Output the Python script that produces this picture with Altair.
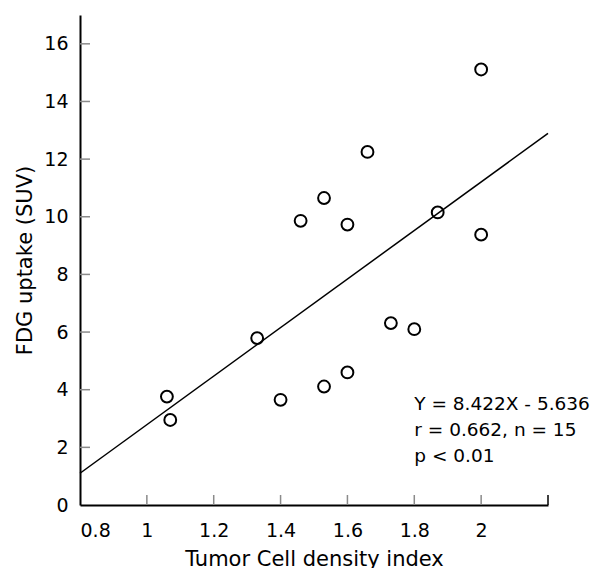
import altair as alt
import pandas as pd

# Data
density = [1.06, 1.07, 1.33, 1.40, 1.46, 1.53, 1.53, 1.60, 1.60, 1.66, 1.73, 1.80, 1.87, 2.00, 2.00]
suv = [3.76, 2.95, 5.79, 3.65, 9.86, 10.65, 4.11, 9.73, 4.60, 12.25, 6.31, 6.10, 10.15, 15.11, 9.38]

slope = 8.422
intercept = -5.636
line_x = [0.8, 2.2]

x_labels = [0.8, 1.0, 1.2, 1.4, 1.6, 1.8, 2.0]
x_ticks = [1.0, 1.2, 1.4, 1.6, 1.8, 2.0]
x_end = [2.2]
y_labels = [0, 2, 4, 6, 8, 10, 12, 14, 16]
y_ticks = [2, 4, 6, 8, 10, 12, 14, 16]

notes = ["Y = 8.422X - 5.636", "r = 0.662, n = 15", "p < 0.01"]
note_x = [1.80, 1.80, 1.80]
note_y = [3.30, 2.40, 1.49]

X_DOMAIN = [0.8, 2.2]
Y_DOMAIN = [0, 17]
W, H = 468, 490
FONT = "DejaVu Sans"

xs = alt.Scale(domain=X_DOMAIN, nice=False, zero=False)
ys = alt.Scale(domain=Y_DOMAIN, nice=False, zero=False)
x_axis = alt.Axis(values=x_labels, format="~g", title="Tumor Cell density index",
                  labelPadding=16, titlePadding=8)
y_axis = alt.Axis(values=y_labels, format="~g", title="FDG uptake (SUV)",
                  labelPadding=12, titlePadding=8)


def X():
    return alt.X("x:Q", scale=xs, axis=x_axis)


def Y():
    return alt.Y("y:Q", scale=ys, axis=y_axis)


pts_df = pd.DataFrame({"x": density, "y": suv})
points = alt.Chart(pts_df).mark_point(
    shape="circle", filled=False, size=140, strokeWidth=2, color="black", opacity=1
).encode(x=X(), y=Y())

line = alt.Chart(pd.DataFrame({"x": line_x})).transform_calculate(
    y=f"{slope} * datum.x + ({intercept})"
).mark_line(color="black", strokeWidth=1.5).encode(x=X(), y=Y())

xtick_rules = alt.Chart(pd.DataFrame({"x": x_ticks})).mark_rule(
    color="#8a8a8a", strokeWidth=1.5
).encode(x=X(), y=alt.value(H), y2=alt.value(H - 10))

xend_rule = alt.Chart(pd.DataFrame({"x": x_end})).mark_rule(
    color="black", strokeWidth=1.5
).encode(x=X(), y=alt.value(H), y2=alt.value(H - 10))

ytick_rules = alt.Chart(pd.DataFrame({"y": y_ticks})).mark_rule(
    color="#8a8a8a", strokeWidth=1.5
).encode(y=Y(), x=alt.value(0), x2=alt.value(10))

text = alt.Chart(pd.DataFrame({"x": note_x, "y": note_y, "t": notes})).mark_text(
    align="left", baseline="alphabetic", font=FONT, fontSize=18.5, color="black"
).encode(x=X(), y=Y(), text="t:N")

chart = alt.layer(points, line, xtick_rules, xend_rule, ytick_rules, text).properties(
    width=W, height=H,
    autosize=alt.AutoSizeParams(type="none"),
    padding={"left": 72, "top": 7, "right": 45, "bottom": 63},
).configure_view(stroke=None).configure_axis(
    grid=False, ticks=False,
    domainColor="black", domainWidth=2,
    labelFont=FONT, labelFontSize=19, labelColor="black",
    titleFont=FONT, titleFontSize=21, titleFontWeight="normal", titleColor="black",
)

chart.save("out.html", embed_options={"renderer": "svg", "actions": False})
